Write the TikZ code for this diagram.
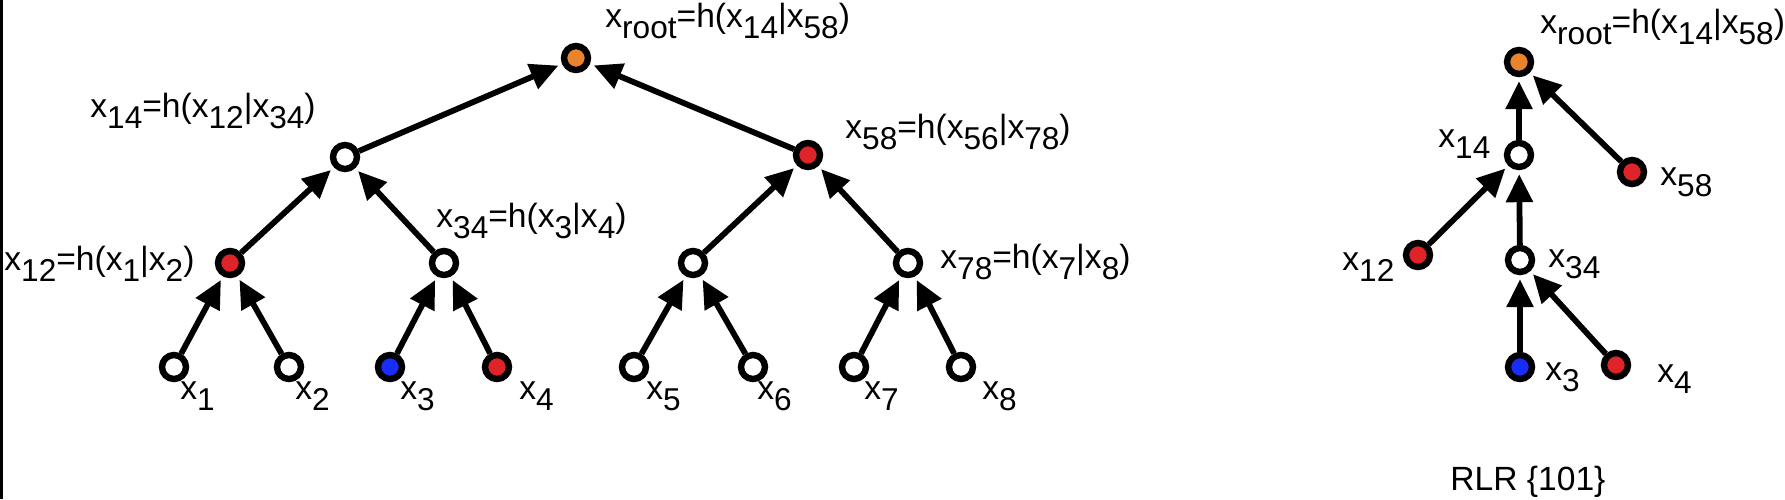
\documentclass[tikz,border=0pt]{standalone}
\usepackage{fontspec}
\setmainfont{Liberation Sans}
\usetikzlibrary{arrows.meta}
\definecolor{nred}{RGB}{222,36,40}
\definecolor{norange}{RGB}{234,132,44}
\definecolor{nblue}{RGB}{24,44,250}
\newcommand{\sbx}[1]{\raisebox{-0.33em}{\fontsize{15.8}{18}\selectfont #1}}
\begin{document}
\begin{tikzpicture}[x=0.5pt,y=-0.5pt,
  nd/.style={circle,draw=black,line width=3.2pt,minimum size=12pt,inner sep=0pt,fill=white},
  red/.style={nd,fill=nred},
  org/.style={nd,fill=norange},
  blu/.style={nd,fill=nblue},
  lab/.style={anchor=base west,inner sep=0pt,font=\fontsize{16.8}{20}\selectfont},
  arr/.style={line width=2.9pt,-{Triangle[length=14pt,width=13pt]},shorten >=2pt}]
\useasboundingbox (0,0) rectangle (1785,499);
\fill[white] (0,0) rectangle (1785,499);
\draw[line width=1.5pt] (1.5,0) -- (1.5,499);
% left tree
\node[org] (R) at (576,58) {};
\node[nd]  (n14) at (345,157) {};
\node[red] (n58) at (808,155) {};
\node[red] (n12) at (230,263) {};
\node[nd]  (n34) at (444,263) {};
\node[nd]  (n56) at (693,263) {};
\node[nd]  (n78) at (908,263) {};
\node[nd]  (l1) at (174,367) {};
\node[nd]  (l2) at (289,367) {};
\node[blu] (l3) at (390,367) {};
\node[red] (l4) at (497,367) {};
\node[nd]  (l5) at (634,367) {};
\node[nd]  (l6) at (753,367) {};
\node[nd]  (l7) at (854,367) {};
\node[nd]  (l8) at (961,367) {};
\draw[arr] (n14) -- (R);
\draw[arr] (n58) -- (R);
\draw[arr] (n12) -- (n14);
\draw[arr] (n34) -- (n14);
\draw[arr] (n56) -- (n58);
\draw[arr] (n78) -- (n58);
\draw[arr] (l1) -- (n12);
\draw[arr] (l2) -- (n12);
\draw[arr] (l3) -- (n34);
\draw[arr] (l4) -- (n34);
\draw[arr] (l5) -- (n56);
\draw[arr] (l6) -- (n56);
\draw[arr] (l7) -- (n78);
\draw[arr] (l8) -- (n78);
\node[lab] (tR) at (605,27) {x\sbx{root}=h(x\sbx{14}|x\sbx{58})};
\node[lab] (t14) at (90,117) {x\sbx{14}=h(x\sbx{12}|x\sbx{34})};
\node[lab] (t58) at (845,138) {x\sbx{58}=h(x\sbx{56}|x\sbx{78})};
\node[lab] (t12) at (4,270) {x\sbx{12}=h(x\sbx{1}|x\sbx{2})};
\node[lab] (t34) at (436,227) {x\sbx{34}=h(x\sbx{3}|x\sbx{4})};
\node[lab] (t78) at (940,268) {x\sbx{78}=h(x\sbx{7}|x\sbx{8})};
\node[lab] (t1) at (180,399) {x\sbx{1}};
\node[lab] (t2) at (295,399) {x\sbx{2}};
\node[lab] (t3) at (400,399) {x\sbx{3}};
\node[lab] (t4) at (519,399) {x\sbx{4}};
\node[lab] (t5) at (646,399) {x\sbx{5}};
\node[lab] (t6) at (757,399) {x\sbx{6}};
\node[lab] (t7) at (864,399) {x\sbx{7}};
\node[lab] (t8) at (982,399) {x\sbx{8}};
% right tree
\node[org] (rR) at (1519,62) {};
\node[nd]  (r14) at (1519,155) {};
\node[red] (r58) at (1632,172) {};
\node[red] (r12) at (1418,255) {};
\node[nd]  (r34) at (1520,260) {};
\node[blu] (r3) at (1520,367) {};
\node[red] (r4) at (1616,365) {};
\draw[arr] (r14) -- (rR);
\draw[arr] (r58) -- (rR);
\draw[arr] (r12) -- (r14);
\draw[arr] (r34) -- (r14);
\draw[arr] (r3) -- (r34);
\draw[arr] (r4) -- (r34);
\node[lab] (sR) at (1540,33) {x\sbx{root}=h(x\sbx{14}|x\sbx{58})};
\node[lab] (s14) at (1438,147) {x\sbx{14}};
\node[lab] (s58) at (1660,185) {x\sbx{58}};
\node[lab] (s12) at (1342,270) {x\sbx{12}};
\node[lab] (s34) at (1548,267) {x\sbx{34}};
\node[lab] (s3) at (1545,380) {x\sbx{3}};
\node[lab] (s4) at (1657,382) {x\sbx{4}};
\node[lab] (cap) at (1450,490) {RLR \{101\}};
\end{tikzpicture}
\end{document}
